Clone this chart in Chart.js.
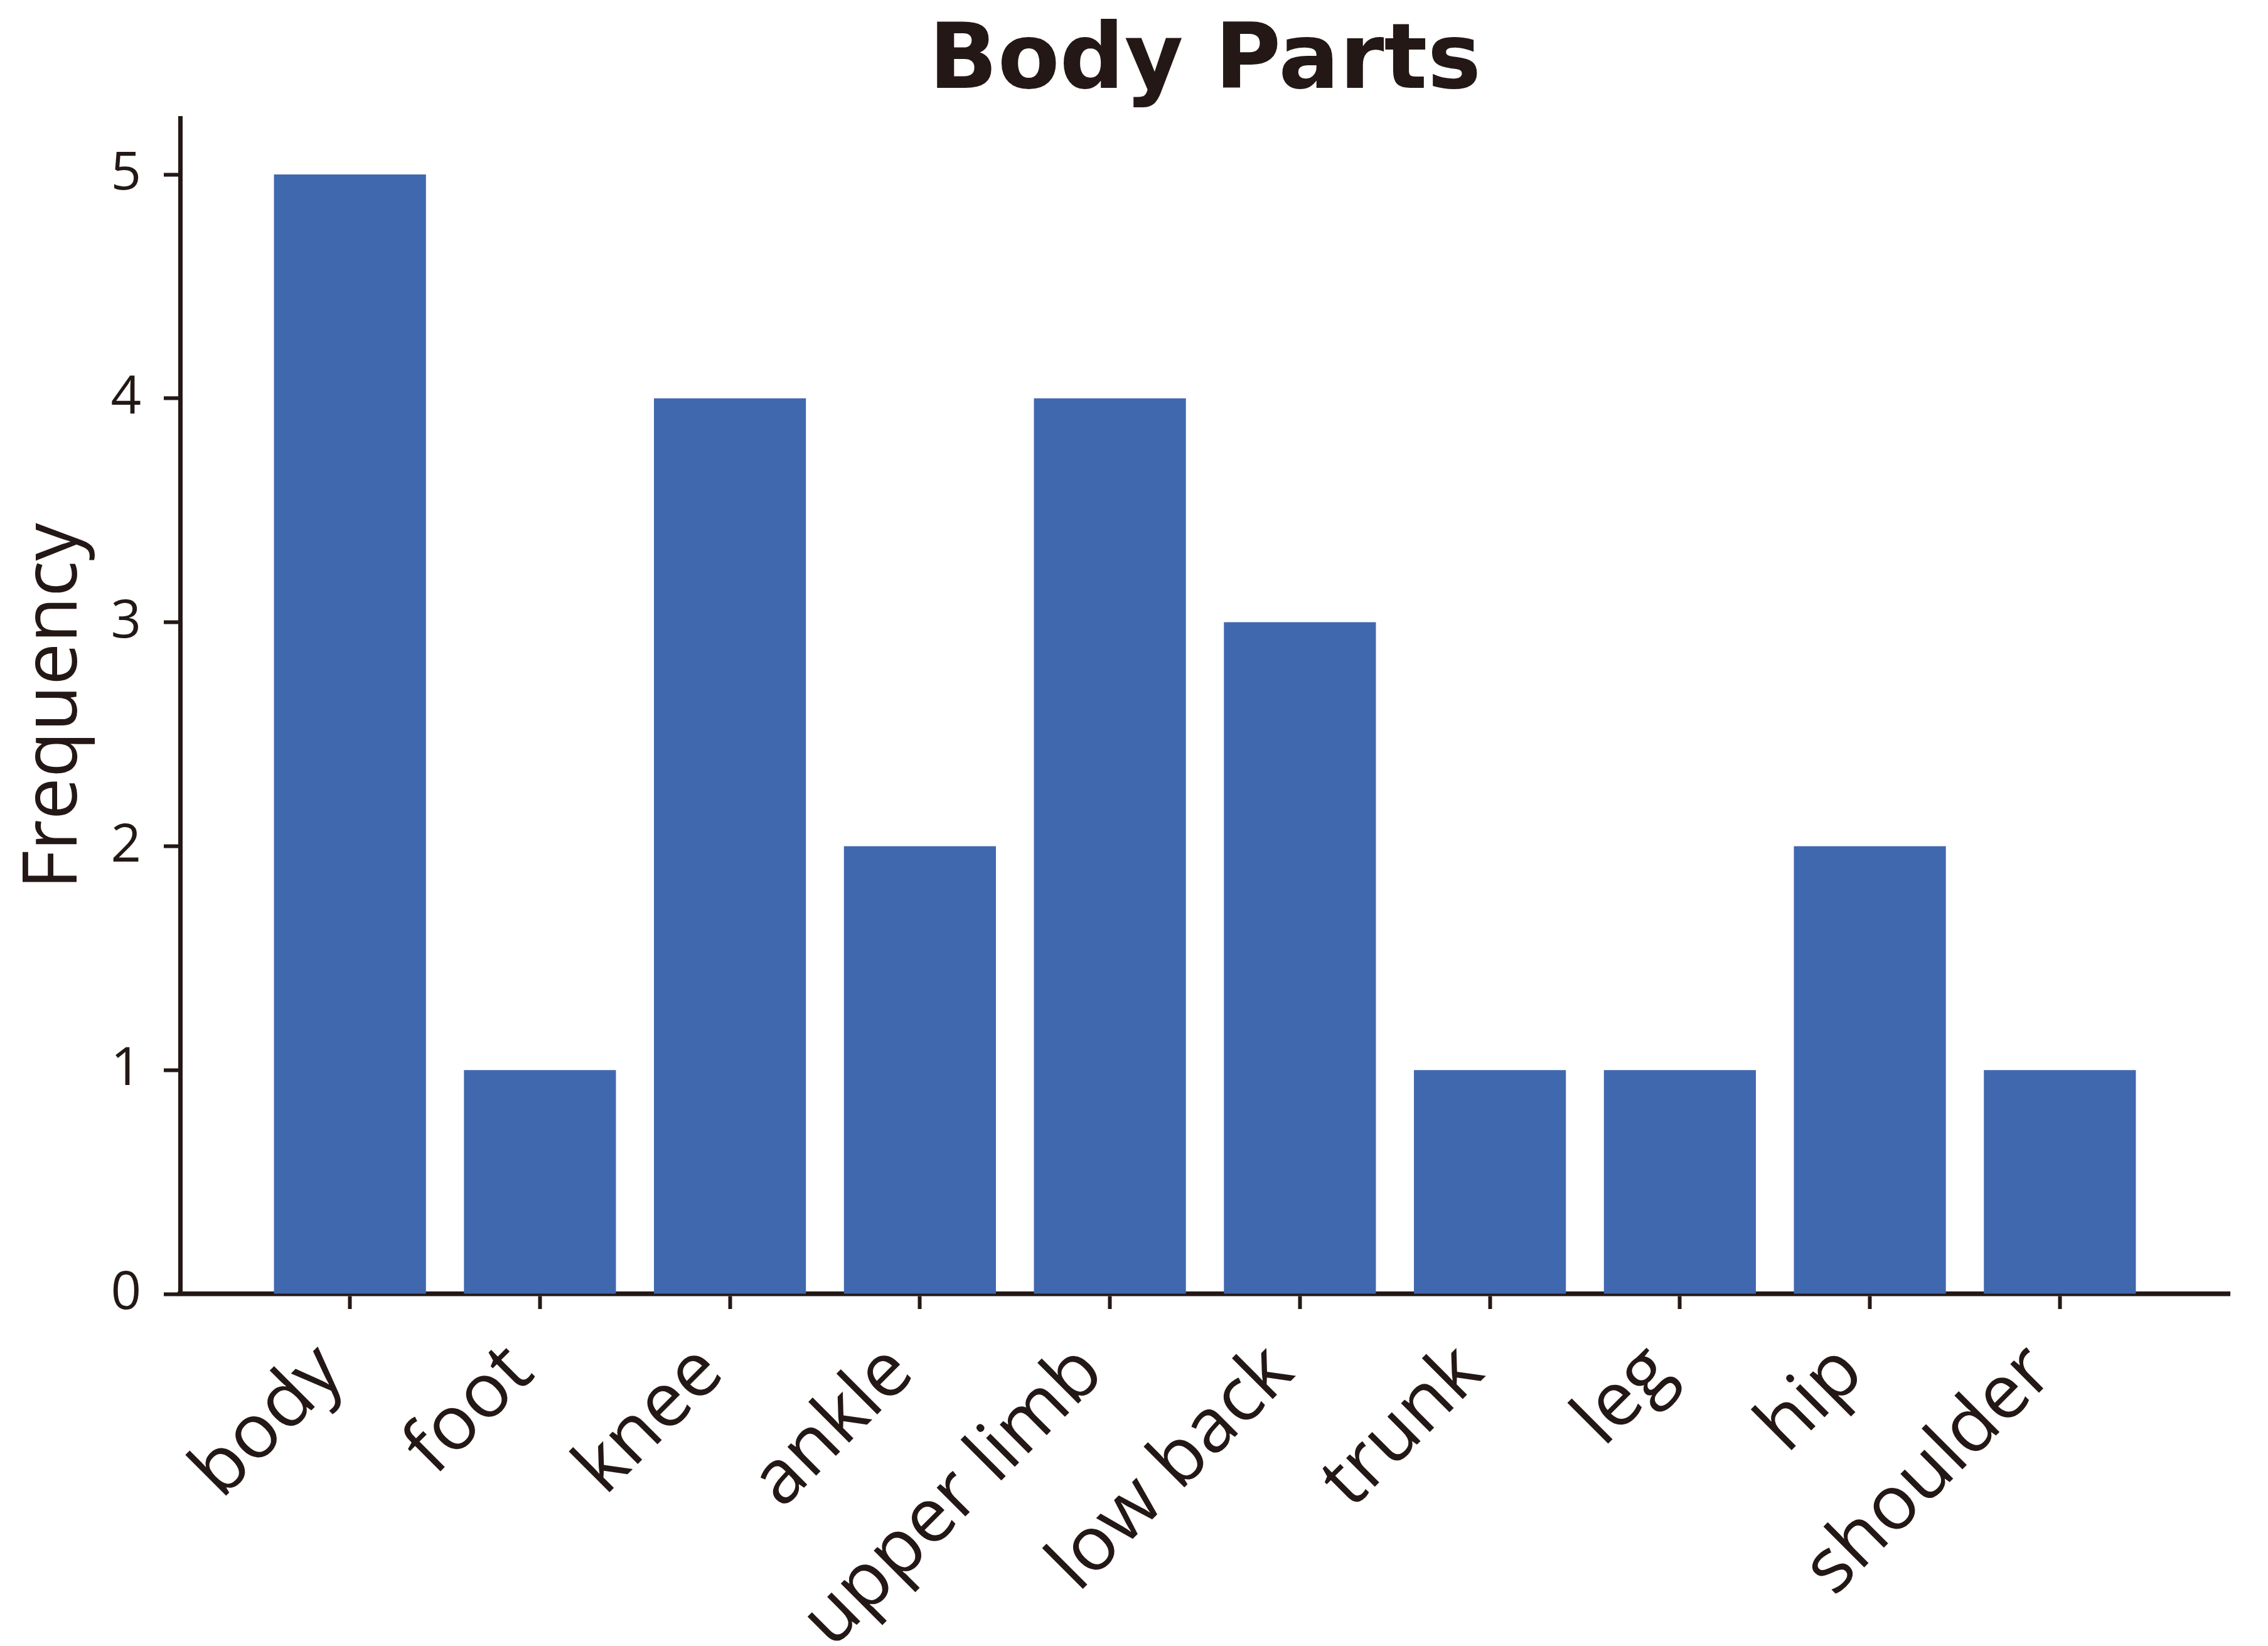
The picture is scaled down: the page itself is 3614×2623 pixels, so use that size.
<!DOCTYPE html>
<html>
<head>
<meta charset="utf-8">
<title>Body Parts</title>
<script src="https://cdn.jsdelivr.net/npm/chart.js@4.4.1/dist/chart.umd.min.js"></script>
<style>
  html, body { margin: 0; padding: 0; background: #ffffff; }
  canvas { display: block; }
</style>
</head>
<body>
<canvas id="bodyPartsChart" width="3614" height="2623"></canvas>
<script>
// values
const bodyParts = ['body', 'foot', 'knee', 'ankle', 'upper limb', 'low back', 'trunk', 'leg', 'hip', 'shoulder'];
const frequency = [5, 1, 4, 2, 4, 3, 1, 1, 2, 1];
const yTicks = [0, 1, 2, 3, 4, 5];

const ink = '#231815';
const barColor = '#4068ae';

document.addEventListener("DOMContentLoaded", function() {
    const ctx = document.getElementById('bodyPartsChart').getContext('2d');

    new Chart(ctx, {
        type: 'bar',
        data: {
            datasets: [{
                label: 'Frequency',
                data: bodyParts.map((name, i) => ({ x: i, y: frequency[i] })),
                backgroundColor: barColor,
                borderWidth: 0,
                barPercentage: 0.8,
                categoryPercentage: 1.0
            }]
        },
        options: {
            responsive: false,
            devicePixelRatio: 1,
            animation: false,
            layout: { padding: { left: 0, right: 61, top: 0, bottom: 0 } },
            plugins: {
                legend: { display: false },
                tooltip: { enabled: false },
                title: {
                    display: true,
                    fullSize: false,   // centre over the plot, not the canvas
                    text: 'Body Parts',
                    color: ink,
                    font: { family: 'DejaVu Sans', size: 144, weight: 'bold', lineHeight: 1.2 },
                    padding: { top: 16, bottom: 0 }
                }
            },
            scales: {
                x: {
                    type: 'linear',
                    min: -0.894,
                    max: 9.894,
                    offset: false,
                    afterBuildTicks: axis => { axis.ticks = bodyParts.map((n, i) => ({ value: i })); },
                    afterFit: scale => { scale.height = 561; },
                    ticks: {
                        autoSkip: false,
                        minRotation: 45,
                        maxRotation: 45,
                        padding: 30,
                        labelOffset: -30,
                        color: ink,
                        font: { family: 'Open Sans', size: 121 },
                        callback: value => bodyParts[value]
                    },
                    grid: { display: true, offset: false, drawOnChartArea: false, drawTicks: true, tickLength: 24, tickWidth: 6, tickColor: ink },
                    border: { display: true, color: ink, width: 7.5 }
                },
                y: {
                    type: 'linear',
                    min: 0,
                    max: 5.25,
                    afterBuildTicks: axis => { axis.ticks = yTicks.map(v => ({ value: v })); },
                    afterFit: scale => { scale.width = 287; },
                    ticks: {
                        padding: 36,
                        color: ink,
                        font: { family: 'Open Sans', size: 85 }
                    },
                    title: {
                        display: true,
                        text: 'Frequency',
                        color: ink,
                        font: { family: 'Open Sans', size: 120 },
                        padding: { top: 16, bottom: 0 }
                    },
                    grid: { display: true, drawOnChartArea: false, drawTicks: true, tickLength: 26, tickWidth: 6, tickColor: ink },
                    border: { display: true, color: ink, width: 7 }
                }
            }
        }
    });
});
</script>
</body>
</html>
